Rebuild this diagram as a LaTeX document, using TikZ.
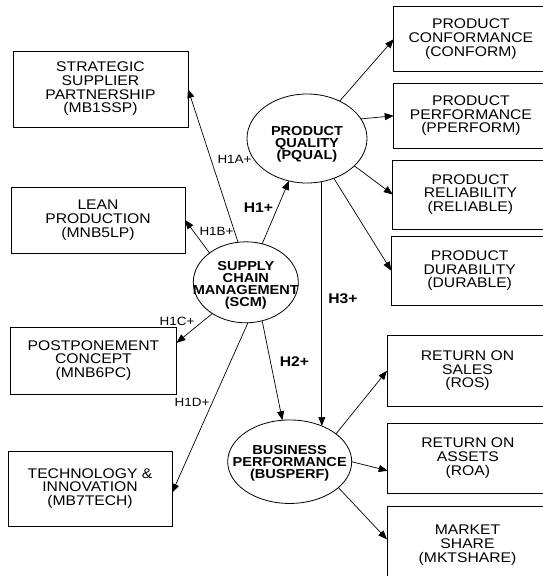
\documentclass[tikz,border=0pt]{standalone}
\usepackage{fontspec}
\setmainfont{Liberation Sans}[FakeStretch=1.12]
\usetikzlibrary{arrows.meta,shapes.geometric}
\begin{document}
\begin{tikzpicture}[x=1pt,y=-1pt,
  box/.style={draw, rectangle, inner sep=0pt, outer sep=0pt, line width=0.8pt, align=center, font=\fontsize{14}{13.7}\selectfont},
  ell/.style={draw, ellipse, inner sep=0pt, outer sep=0pt, line width=0.8pt},
  elltext/.style={align=center, inner sep=0pt, font=\bfseries\fontsize{13}{12}\selectfont},
  hlab/.style={inner sep=0pt, font=\fontsize{12}{12}\selectfont},
  hbold/.style={inner sep=0pt, font=\bfseries\fontsize{14}{14}\selectfont},
  arr/.style={-{Triangle[length=9pt,width=7pt]}, line width=0.7pt}]
\useasboundingbox (0,0) rectangle (543,576);
\clip (0,0) rectangle (543,576);
\fill[white] (0,0) rectangle (543,576);

% left boxes
\node[box, minimum width=175pt, minimum height=76pt] (ssp) at (100.5,89) {STRATEGIC\\SUPPLIER\\PARTNERSHIP\\(MB1SSP)};
\node[box, minimum width=174pt, minimum height=66pt] (lean) at (98,220) {LEAN\\PRODUCTION\\(MNB5LP)};
\node[box, minimum width=166pt, minimum height=67pt] (post) at (93.5,360.5) {POSTPONEMENT\\CONCEPT\\(MNB6PC)};
\node[box, minimum width=164pt, minimum height=75pt] (tech) at (90,488.5) {TECHNOLOGY \&\\INNOVATION\\(MB7TECH)};

% right boxes
\node[box, minimum width=154.3pt, minimum height=65pt] (conform) at (470.9,39.2) {PRODUCT\\CONFORMANCE\\(CONFORM)};
\node[box, minimum width=154.3pt, minimum height=65pt] (pperf) at (470.9,115.8) {PRODUCT\\PERFORMANCE\\(PPERFORM)};
\node[box, minimum width=155.3pt, minimum height=69pt] (reliable) at (470.4,194.5) {PRODUCT\\RELIABILITY\\(RELIABLE)};
\node[box, minimum width=156.7pt, minimum height=69.3pt] (durable) at (469.7,270.7) {PRODUCT\\DURABILITY\\(DURABLE)};
\node[box, minimum width=161pt, minimum height=71pt] (ros) at (467.5,370.8) {RETURN ON\\SALES\\(ROS)};
\node[box, minimum width=160.3pt, minimum height=70pt] (roa) at (467.9,458) {RETURN ON\\ASSETS\\(ROA)};
\node[box, minimum width=161pt, minimum height=78pt] (mkt) at (467.5,545) {MARKET\\SHARE\\(MKTSHARE)};

% ellipses
\node[ell, minimum width=105pt, minimum height=81pt] (scm) at (245.8,282.3) {};
\node[elltext] (scmt) at (245.8,285) {SUPPLY\\CHAIN\\MANAGEMENT\\(SCM)};
\node[ell, minimum width=120pt, minimum height=89pt] (pqual) at (307,138.5) {};
\node[elltext] (pqualt) at (307,144) {PRODUCT\\QUALITY\\(PQUAL)};
\node[ell, minimum width=124pt, minimum height=83.5pt] (busperf) at (289.7,461.7) {};
\node[elltext] (busperft) at (289.7,463) {BUSINESS\\PERFORMANCE\\(BUSPERF)};

% connectors
\draw[arr] (scm.101) -- (ssp.east);
\draw[arr] (scm.141) -- (lean.east);
\draw[arr] (scm.223) -- (post.12);
\draw[arr] (scm.273) -- (tech.-3);
\draw[arr] (scm) -- (pqual);
\draw[arr] (scm.-67) -- (busperf.100);
\draw[arr] (pqual.-71) -- (pqual.-71 |- busperf.48);
\draw[arr] (pqual) -- (conform.west);
\draw[arr] (pqual.20) -- (pperf.west);
\draw[arr] (pqual.-30) -- (reliable.west);
\draw[arr] (pqual.-56) -- (durable.west);
\draw[arr] (busperf.31) -- (ros.west);
\draw[arr] (busperf.0) -- (roa.189);
\draw[arr] (busperf.-28) -- (mkt.176);

% labels
\node[hlab] (h1a) at (234.5,159.5) {H1A+};
\node[hlab] (h1b) at (216.5,231) {H1B+};
\node[hbold] (h1) at (258.5,207.5) {H1+};
\node[hlab] (h1c) at (177,321) {H1C+};
\node[hlab] (h1d) at (192,402) {H1D+};
\node[hbold] (h2) at (294.5,362) {H2+};
\node[hbold] (h3) at (343,299) {H3+};
\end{tikzpicture}
\end{document}
